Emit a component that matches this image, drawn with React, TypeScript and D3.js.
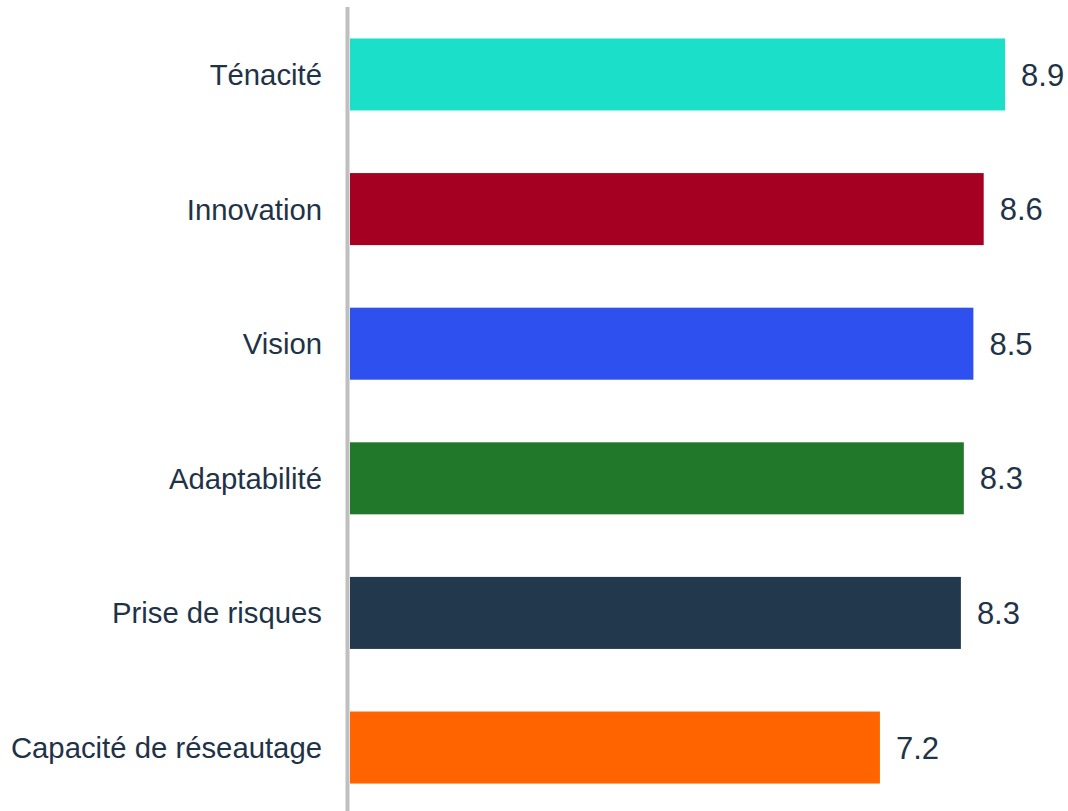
import React from "react";
import * as d3 from "d3";

const categories = ["Ténacité", "Innovation", "Vision", "Adaptabilité", "Prise de risques", "Capacité de réseautage"];
const values = [8.9, 8.61, 8.47, 8.34, 8.3, 7.2];
const colors = ["#1BDFC9", "#A50021", "#2D50EE", "#22782A", "#22384C", "#FF6400"];

const W = 1068;
const H = 811;
const TEXT = "#1F3347";

export default function App() {
  const x = d3.scaleLinear().domain([0, 10]).range([350, 1086]);
  const y = d3
    .scaleBand<string>()
    .domain(categories)
    .range([7.5, 814.5])
    .paddingInner(0.465)
    .paddingOuter(0.23);
  const bw = y.bandwidth();
  return (
    <svg
      width={W}
      height={H}
      style={{ position: "absolute", left: 0, top: 0, display: "block" }}
      fontFamily="'Liberation Sans', Arial, sans-serif"
    >
      {categories.map((c, i) => {
        const y0 = y(c)!;
        const cy = y0 + bw / 2;
        return (
          <g key={c}>
            <rect x={x(0)} y={y0} width={x(values[i]) - x(0)} height={bw} fill={colors[i]} />
            <text x={322} y={cy} dy="0.36em" textAnchor="end" fontSize={29.3} fill={TEXT}>
              {c}
            </text>
            <text x={x(values[i]) + 16} y={cy} dy="0.36em" textAnchor="start" fontSize={31} fill={TEXT}>
              {values[i].toFixed(1)}
            </text>
          </g>
        );
      })}
      <line x1={347.5} x2={347.5} y1={7} y2={H} stroke="#BFBFBF" strokeWidth={4} />
    </svg>
  );
}
